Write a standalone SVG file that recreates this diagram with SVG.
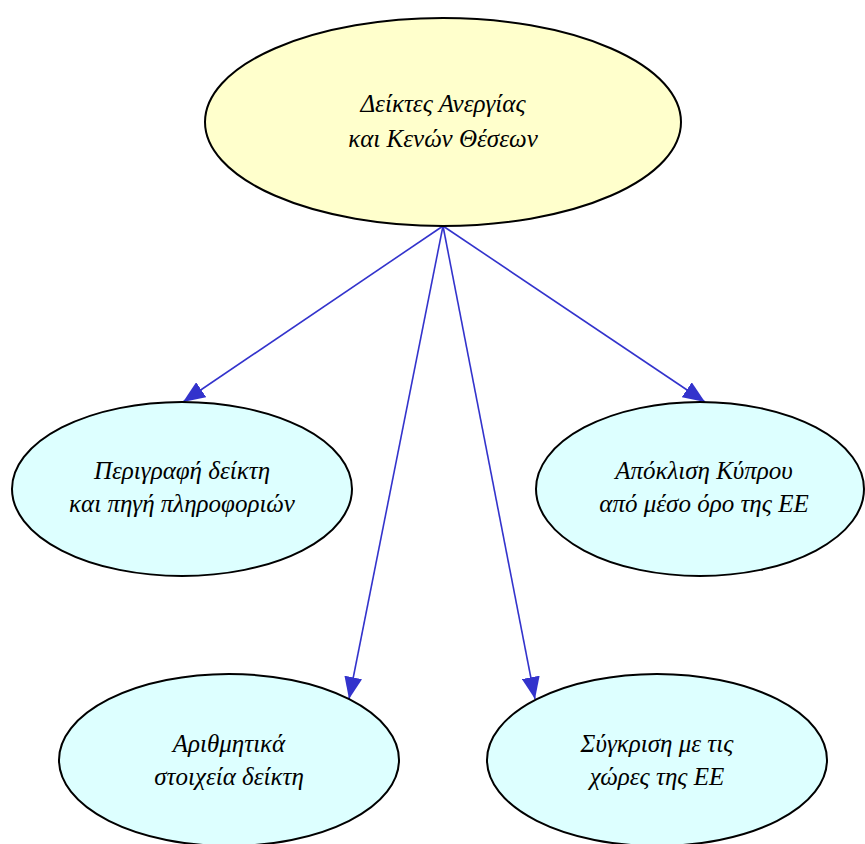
<svg xmlns="http://www.w3.org/2000/svg" width="865" height="844" viewBox="0 0 865 844">
<defs>
<style>
.n{stroke:#000;stroke-width:2}
.root{fill:#ffffcc}
.leaf{fill:#ddffff}
.t{font-family:"Liberation Serif","DejaVu Serif",serif;font-style:italic;font-size:25px;fill:#000;text-anchor:middle}
.e{stroke:#3333cc;stroke-width:1.6;fill:none}
</style>
<marker id="ah" markerWidth="22" markerHeight="18" refX="22" refY="9" orient="auto" markerUnits="userSpaceOnUse">
<path d="M0,0 L22,9 L0,18 Z" fill="#3333cc"/>
</marker>
</defs>
<rect width="865" height="844" fill="#fff"/>
<g id="edges">
<line class="e" x1="443" y1="226" x2="183" y2="402" marker-end="url(#ah)"/>
<line class="e" x1="443" y1="226" x2="349" y2="699" marker-end="url(#ah)"/>
<line class="e" x1="443" y1="226" x2="535" y2="699" marker-end="url(#ah)"/>
<line class="e" x1="443" y1="226" x2="705" y2="402" marker-end="url(#ah)"/>
</g>
<g id="root">
<ellipse class="n root" cx="443" cy="122" rx="238" ry="104"/>
<text class="t" x="443" y="112">Δείκτες Ανεργίας</text>
<text class="t" x="443" y="147">και Κενών Θέσεων</text>
</g>
<g id="n1">
<ellipse class="n leaf" cx="182" cy="489" rx="170" ry="87"/>
<text class="t" x="182" y="479">Περιγραφή δείκτη</text>
<text class="t" x="182" y="512">και πηγή πληροφοριών</text>
</g>
<g id="n2">
<ellipse class="n leaf" cx="700" cy="489" rx="164" ry="87"/>
<text class="t" x="704" y="479">Απόκλιση Κύπρου</text>
<text class="t" x="704" y="512">από μέσο όρο της ΕΕ</text>
</g>
<g id="n3">
<ellipse class="n leaf" cx="229" cy="760" rx="170" ry="86"/>
<text class="t" x="229" y="752">Αριθμητικά</text>
<text class="t" x="229" y="785">στοιχεία δείκτη</text>
</g>
<g id="n4">
<ellipse class="n leaf" cx="657" cy="760" rx="170" ry="86"/>
<text class="t" x="657" y="752">Σύγκριση με τις</text>
<text class="t" x="657" y="785">χώρες της ΕΕ</text>
</g>
</svg>
